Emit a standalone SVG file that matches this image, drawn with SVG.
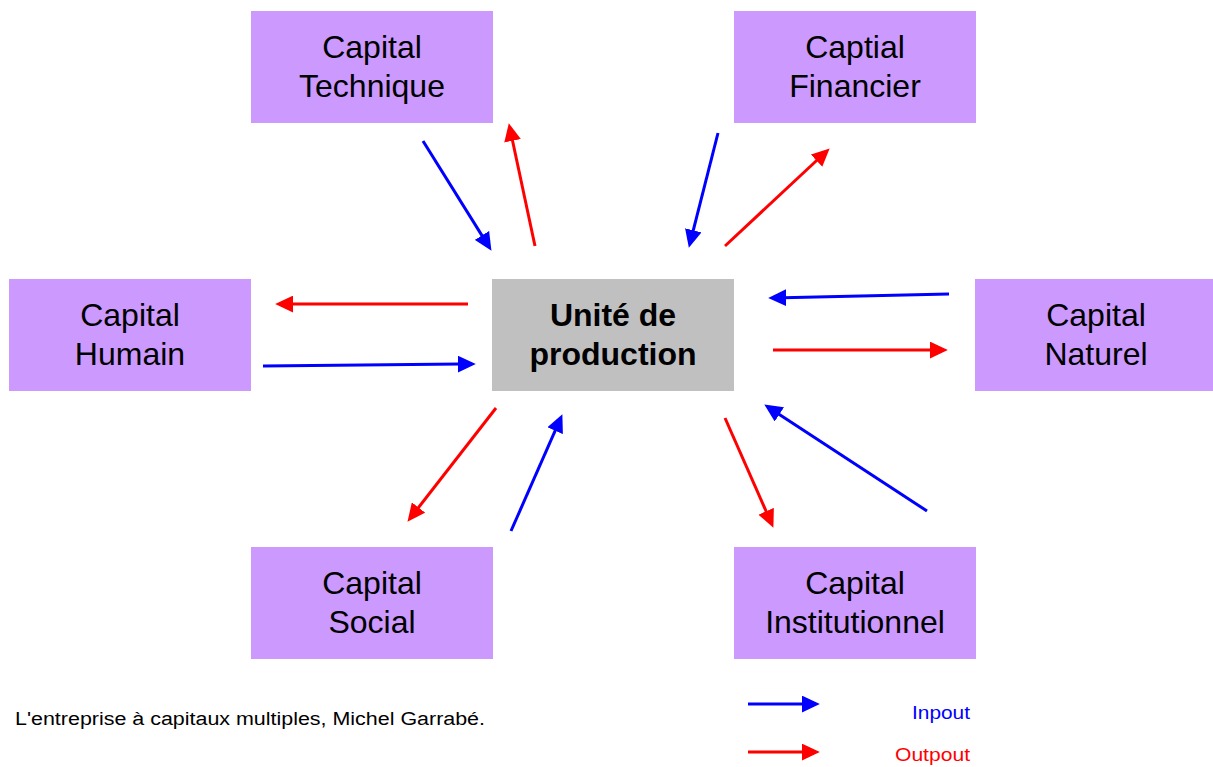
<svg xmlns="http://www.w3.org/2000/svg" width="1213" height="767" viewBox="0 0 1213 767">
<style>
.cap{fill:#CC99FF}
.ctr{fill:#C0C0C0}
.lbl{font-family:"Liberation Sans",Arial,sans-serif;font-size:32px;fill:#000;text-anchor:middle}
.bold{font-weight:bold}
.in{stroke:#0000FF;stroke-width:3;fill:none;marker-end:url(#hb)}
.out{stroke:#FF0000;stroke-width:3;fill:none;marker-end:url(#hr)}
.note{font-family:"Liberation Sans",Arial,sans-serif}
</style>
<defs>
<marker id="hb" viewBox="0 0 17 16" markerWidth="18" markerHeight="17" refX="3" refY="8" orient="auto" markerUnits="userSpaceOnUse"><path d="M0,0 L17,8 L0,16 z" fill="#0000FF"/></marker>
<marker id="hr" viewBox="0 0 17 16" markerWidth="18" markerHeight="17" refX="3" refY="8" orient="auto" markerUnits="userSpaceOnUse"><path d="M0,0 L17,8 L0,16 z" fill="#FF0000"/></marker>
</defs>
<rect width="1213" height="767" fill="#fff"/>
<g id="tech"><rect class="cap" x="251" y="11" width="242" height="112"/><text class="lbl" x="372" y="58">Capital</text><text class="lbl" x="372" y="97">Technique</text></g>
<g id="fin"><rect class="cap" x="734" y="11" width="242" height="112"/><text class="lbl" x="855" y="58">Captial</text><text class="lbl" x="855" y="97">Financier</text></g>
<g id="hum"><rect class="cap" x="9" y="279" width="242" height="112"/><text class="lbl" x="130" y="326">Capital</text><text class="lbl" x="130" y="365">Humain</text></g>
<g id="unit"><rect class="ctr" x="492" y="279" width="242" height="112"/><text class="lbl bold" x="613" y="326">Unité de</text><text class="lbl bold" x="613" y="365">production</text></g>
<g id="nat"><rect class="cap" x="975" y="279" width="238" height="112"/><text class="lbl" x="1096" y="326">Capital</text><text class="lbl" x="1096" y="365">Naturel</text></g>
<g id="soc"><rect class="cap" x="251" y="547" width="242" height="112"/><text class="lbl" x="372" y="594">Capital</text><text class="lbl" x="372" y="633">Social</text></g>
<g id="inst"><rect class="cap" x="734" y="547" width="242" height="112"/><text class="lbl" x="855" y="594">Capital</text><text class="lbl" x="855" y="633">Institutionnel</text></g>
<g id="connectors">
<line class="in" x1="423" y1="141" x2="483.6" y2="238.1"/>
<line class="out" x1="535" y1="246" x2="511.9" y2="137.7"/>
<line class="in" x1="718" y1="133" x2="692.5" y2="233.4"/>
<line class="out" x1="725" y1="246" x2="818.8" y2="158.5"/>
<line class="out" x1="468" y1="304" x2="290" y2="304"/>
<line class="in" x1="263" y1="366" x2="461" y2="364.1"/>
<line class="in" x1="949" y1="294" x2="783" y2="297.7"/>
<line class="out" x1="773" y1="350" x2="933" y2="350"/>
<line class="out" x1="496" y1="408" x2="416.6" y2="510"/>
<line class="in" x1="511" y1="531" x2="556.4" y2="427.8"/>
<line class="out" x1="725" y1="418" x2="767.4" y2="514.2"/>
<line class="in" x1="927" y1="511" x2="776.7" y2="412.7"/>
</g>
<g id="legend">
<line class="in" x1="748" y1="704" x2="805" y2="704"/>
<line class="out" x1="748" y1="752" x2="805" y2="752"/>
<text class="note" x="970" y="719" font-size="19" fill="#0000FF" text-anchor="end" textLength="58" lengthAdjust="spacingAndGlyphs">Inpout</text>
<text class="note" x="970" y="761" font-size="19" fill="#FF0000" text-anchor="end" textLength="75" lengthAdjust="spacingAndGlyphs">Outpout</text>
</g>
<text class="note" x="15" y="725" font-size="18" fill="#000" textLength="470" lengthAdjust="spacingAndGlyphs">L'entreprise à capitaux multiples, Michel Garrabé.</text>
</svg>
